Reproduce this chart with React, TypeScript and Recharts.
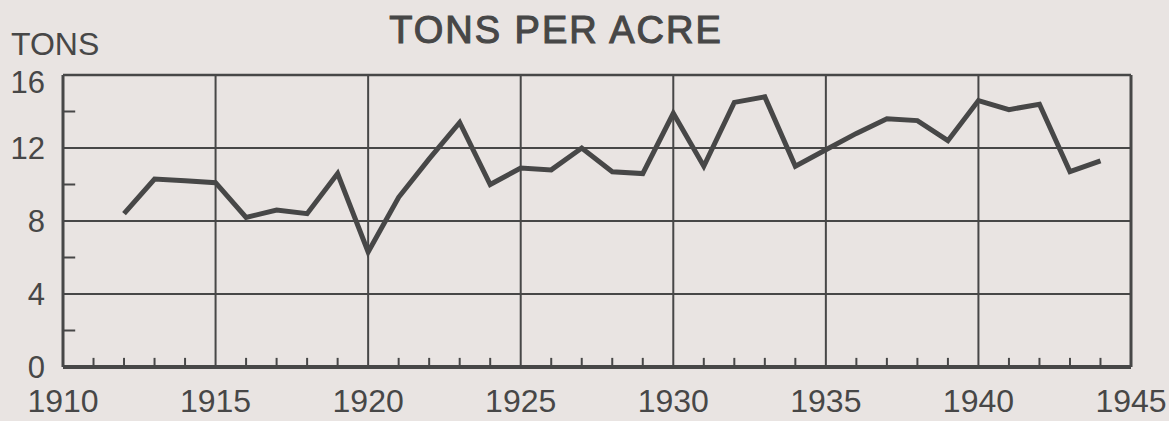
import { LineChart, Line, XAxis, YAxis, CartesianGrid, ReferenceLine } from "recharts";

const years = [
  1912, 1913, 1914, 1915, 1916, 1917, 1918, 1919, 1920, 1921, 1922, 1923, 1924, 1925, 1926, 1927, 1928,
  1929, 1930, 1931, 1932, 1933, 1934, 1935, 1936, 1937, 1938, 1939, 1940, 1941, 1942, 1943, 1944,
];
const tons = [
  8.4, 10.3, 10.2, 10.1, 8.2, 8.6, 8.4, 10.6, 6.3, 9.3, 11.4, 13.4, 10.0, 10.9, 10.8, 12.0, 10.7,
  10.6, 13.9, 11.0, 14.5, 14.8, 11.0, 11.9, 12.8, 13.6, 13.5, 12.4, 14.6, 14.1, 14.4, 10.7, 11.3,
];
const yearTicks = [1910, 1915, 1920, 1925, 1930, 1935, 1940, 1945];
const tonTicks = [0, 4, 8, 12, 16];
const minorYears = [
  1911, 1912, 1913, 1914, 1916, 1917, 1918, 1919, 1921, 1922, 1923, 1924, 1926, 1927, 1928, 1929,
  1931, 1932, 1933, 1934, 1936, 1937, 1938, 1939, 1941, 1942, 1943, 1944,
];
const minorTons = [2, 6, 10, 14];

const ink = "#474747";
const paper = "#e9e4e2";
const font = "'Liberation Sans', Arial, sans-serif";

const data = years.map((y, i) => ({ year: y, tons: tons[i] }));

// top label sits a little below the frame line, like the original
function TonTick(props: any) {
  const { x, y, payload } = props;
  const shift = payload.value === 16 ? 7 : 0;
  return (
    <text x={x} y={y + shift} dy={11} textAnchor="end" fill={ink} fontSize={31} fontFamily={font}>
      {payload.value}
    </text>
  );
}

export default function App() {
  return (
    <div
      style={{
        position: "fixed",
        top: 0,
        left: 0,
        width: 1169,
        height: 421,
        background: paper,
        fontFamily: font,
        color: ink,
      }}
    >
      <div
        style={{
          position: "absolute",
          left: 0,
          width: 1112,
          top: 10,
          textAlign: "center",
          fontSize: 38,
          letterSpacing: 2,
          lineHeight: "40px",
          WebkitTextStroke: "1.1px " + ink,
        }}
      >
        TONS PER ACRE
      </div>
      <div style={{ position: "absolute", left: 11, top: 29, fontSize: 32, lineHeight: "30px" }}>TONS</div>
      <LineChart width={1169} height={421} data={data} margin={{ top: 75, right: 38, bottom: 14, left: 13 }}>
        <CartesianGrid stroke={ink} strokeWidth={2} />
        <XAxis
          dataKey="year"
          type="number"
          domain={[1910, 1945]}
          ticks={yearTicks}
          interval={0}
          height={40}
          tickSize={0}
          tickMargin={22}
          axisLine={{ stroke: ink, strokeWidth: 4 }}
          tick={{ fill: ink, fontSize: 32, fontFamily: font }}
        />
        <YAxis
          type="number"
          domain={[0, 16]}
          ticks={tonTicks}
          interval={0}
          width={50}
          tickSize={0}
          tickMargin={18}
          axisLine={{ stroke: ink, strokeWidth: 3 }}
          tick={<TonTick />}
        />
        <ReferenceLine x={1945} stroke={ink} strokeWidth={3} />
        <ReferenceLine y={16} stroke={ink} strokeWidth={2.5} />
        {minorYears.map((y) => (
          <ReferenceLine
            key={"mx" + y}
            segment={[
              { x: y, y: 0 },
              { x: y, y: 0.5 },
            ]}
            stroke={ink}
            strokeWidth={2}
          />
        ))}
        {minorTons.map((t) => (
          <ReferenceLine
            key={"my" + t}
            segment={[
              { x: 1910, y: t },
              { x: 1910.4, y: t },
            ]}
            stroke={ink}
            strokeWidth={2}
          />
        ))}
        <Line
          type="linear"
          dataKey="tons"
          stroke={ink}
          strokeWidth={5}
          dot={false}
          isAnimationActive={false}
        />
      </LineChart>
    </div>
  );
}
